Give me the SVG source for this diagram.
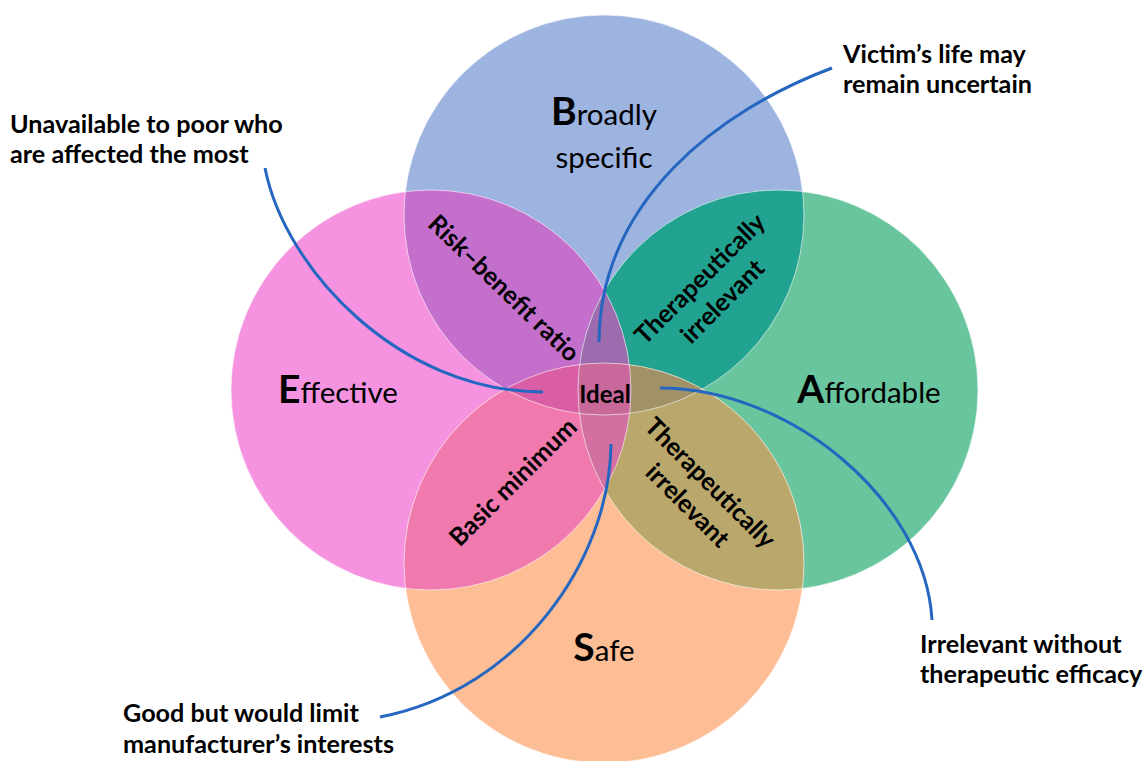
<svg xmlns="http://www.w3.org/2000/svg" width="1142" height="761" viewBox="0 0 1142 761">
<style>
text{font-family:Lato,"Open Sans","Liberation Sans",sans-serif;fill:#000}
.big{font-size:39px;font-weight:700}
.reg{font-size:29.5px;font-weight:400}
.lbl{font-size:25px;font-weight:700}
.ideal{font-size:24px;font-weight:700}
.call{font-size:25.2px;font-weight:700}
.conn{fill:none;stroke:#2566C0;stroke-width:3;stroke-linecap:butt}
.edge{fill:none;stroke:#fff;stroke-width:1;stroke-opacity:.6}
</style>
<defs>
<clipPath id="cpB"><circle cx="604" cy="215" r="200"/></clipPath>
<clipPath id="cpP"><circle cx="431" cy="390" r="200"/></clipPath>
<clipPath id="cpG"><circle cx="778" cy="390" r="200"/></clipPath>
<clipPath id="cpO"><circle cx="604" cy="563" r="200"/></clipPath>
</defs>
<rect width="1142" height="761" fill="#fff"/>
<g id="circles">
<circle id="circle-broadly" cx="604" cy="215" r="200" fill="#9DB3E0"/>
<circle id="circle-effective" cx="431" cy="390" r="200" fill="#F593E0"/>
<circle id="circle-affordable" cx="778" cy="390" r="200" fill="#68C59D"/>
<circle id="circle-safe" cx="604" cy="563" r="200" fill="#FDBE96"/>
</g>
<g id="overlaps">
<circle cx="431" cy="390" r="200" fill="#C46FCC" clip-path="url(#cpB)"/>
<circle cx="778" cy="390" r="200" fill="#22A290" clip-path="url(#cpB)"/>
<circle cx="604" cy="563" r="200" fill="#F07AAE" clip-path="url(#cpP)"/>
<circle cx="604" cy="563" r="200" fill="#BAA76B" clip-path="url(#cpG)"/>
<g clip-path="url(#cpP)"><circle cx="778" cy="390" r="200" fill="#9C6CAE" clip-path="url(#cpB)"/></g>
<g clip-path="url(#cpP)"><circle cx="604" cy="563" r="200" fill="#D95EA5" clip-path="url(#cpB)"/></g>
<g clip-path="url(#cpG)"><circle cx="604" cy="563" r="200" fill="#A09266" clip-path="url(#cpB)"/></g>
<g clip-path="url(#cpP)"><circle cx="604" cy="563" r="200" fill="#D170A1" clip-path="url(#cpG)"/></g>
<g clip-path="url(#cpP)"><g clip-path="url(#cpG)"><circle cx="604" cy="563" r="200" fill="#C8689B" clip-path="url(#cpB)"/></g></g>
<circle class="edge" cx="604" cy="215" r="200"/>
<circle class="edge" cx="431" cy="390" r="200"/>
<circle class="edge" cx="778" cy="390" r="200"/>
<circle class="edge" cx="604" cy="563" r="200"/>
</g>
<g id="node-broadly"><text x="604" y="125" text-anchor="middle"><tspan class="big">B</tspan><tspan class="reg">roadly</tspan></text><text class="reg" x="604" y="168" text-anchor="middle">specific</text></g>
<g id="node-effective"><text x="338" y="403" text-anchor="middle"><tspan class="big">E</tspan><tspan class="reg">ffective</tspan></text></g>
<g id="node-affordable"><text x="869" y="403" text-anchor="middle"><tspan class="big">A</tspan><tspan class="reg">ffordable</tspan></text></g>
<g id="node-safe"><text x="604" y="661" text-anchor="middle"><tspan class="big">S</tspan><tspan class="reg">afe</tspan></text></g>
<g id="region-risk"><text class="lbl" transform="translate(504,288) rotate(44)" text-anchor="middle" dy="0.35em">Risk–benefit ratio</text></g>
<g id="region-basic"><text class="lbl" transform="translate(513,482) rotate(-45)" text-anchor="middle" dy="0.35em">Basic minimum</text></g>
<g id="region-ther-top" transform="translate(711,290) rotate(-45)"><text class="lbl" x="0" y="-16" text-anchor="middle" dy="0.35em">Therapeutically</text><text class="lbl" x="0" y="16" text-anchor="middle" dy="0.35em">irrelevant</text></g>
<g id="region-ther-bottom" transform="translate(699,494) rotate(45)"><text class="lbl" x="0" y="-16" text-anchor="middle" dy="0.35em">Therapeutically</text><text class="lbl" x="0" y="16" text-anchor="middle" dy="0.35em">irrelevant</text></g>
<g id="region-ideal"><text class="ideal" x="605" y="403" text-anchor="middle">Ideal</text></g>
<g id="connectors">
<path class="conn" d="M265,168 C285,270 400,392 543,392"/>
<path class="conn" d="M832,68 C720,110 600,200 599,342"/>
<path class="conn" d="M660,388 C790,388 925,500 932,620"/>
<path class="conn" d="M380,717 C520,690 610,560 611,444"/>
</g>
<g id="note-unavailable"><text class="call" x="10" y="133">Unavailable to poor who</text><text class="call" x="10" y="163">are affected the most</text></g>
<g id="note-victim"><text class="call" x="843" y="63">Victim’s life may</text><text class="call" x="843" y="93">remain uncertain</text></g>
<g id="note-irrelevant"><text class="call" x="920" y="653">Irrelevant without</text><text class="call" x="920" y="683">therapeutic efficacy</text></g>
<g id="note-good"><text class="call" x="123" y="722">Good but would limit</text><text class="call" x="123" y="753">manufacturer’s interests</text></g>
</svg>
